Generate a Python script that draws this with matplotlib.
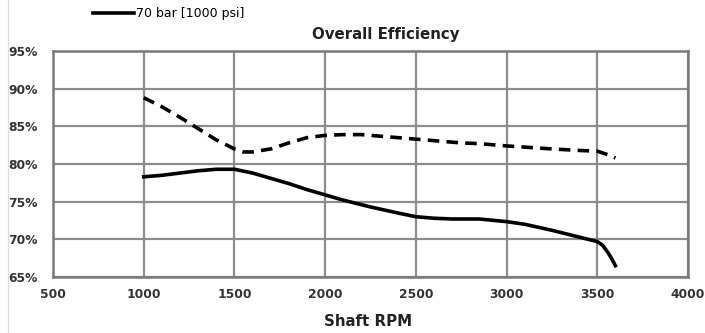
import matplotlib
matplotlib.use("Agg")
import matplotlib.pyplot as plt
from matplotlib.ticker import FuncFormatter

plt.rcParams['font.family'] = ['DejaVu Sans']

# Overall efficiency vs shaft speed
rpm_dashed = [1000, 1100, 1200, 1300, 1400, 1500, 1550, 1600, 1700, 1800, 1900,
              2000, 2100, 2200, 2400, 2500, 2600, 2750, 2850, 3000, 3250, 3400,
              3500, 3550, 3600]
eff_dashed = [88.8, 87.6, 86.2, 84.7, 83.2, 82.0, 81.6, 81.6, 82.0, 82.8, 83.5,
              83.8, 83.9, 83.9, 83.5, 83.3, 83.1, 82.8, 82.7, 82.4, 82.0, 81.8,
              81.7, 81.3, 80.8]

rpm_solid = [1000, 1100, 1200, 1300, 1400, 1500, 1600, 1700, 1800, 1900, 2000,
             2100, 2250, 2400, 2500, 2600, 2700, 2850, 3000, 3100, 3250, 3400,
             3500, 3530, 3560, 3580, 3600]
eff_solid = [78.3, 78.5, 78.8, 79.1, 79.3, 79.3, 78.8, 78.1, 77.4, 76.6, 75.9,
             75.2, 74.3, 73.5, 73.0, 72.8, 72.7, 72.7, 72.35, 72.0, 71.2, 70.3,
             69.7, 69.2, 68.2, 67.4, 66.5]

legend_label = "70 bar [1000 psi]"
x_ticks = [500, 1000, 1500, 2000, 2500, 3000, 3500, 4000]
y_ticks = [65, 70, 75, 80, 85, 90, 95]

fig = plt.figure(figsize=(7.05, 3.33), dpi=100)
ax = fig.add_axes([53 / 705, 1 - 277 / 333, (688 - 53) / 705, (277 - 51) / 333])

grid_color = '#8c8c8c'
ax.set_xlim(500, 4000)
ax.set_ylim(65, 95)
ax.set_xticks(x_ticks)
ax.set_yticks(y_ticks)
ax.grid(True, color=grid_color, linewidth=1.6, zorder=0)
for s in ax.spines.values():
    s.set_color('#7a7a7a')
    s.set_linewidth(1.8)

ax.plot(rpm_dashed, eff_dashed, color='black', linewidth=2.6,
        linestyle=(0, (3.2, 2.0)), zorder=3)
line, = ax.plot(rpm_solid, eff_solid, color='black', linewidth=2.6, zorder=3)

ax.yaxis.set_major_formatter(FuncFormatter(lambda v, p: f"{int(v)}%"))
ax.tick_params(axis='both', length=0, labelsize=8.8, labelcolor='#333333')
ax.tick_params(axis='y', pad=10.8)
ax.tick_params(axis='x', pad=8)
for lab in ax.get_xticklabels() + ax.get_yticklabels():
    lab.set_fontweight('bold')

fig.text(386 / 705, 1 - 35 / 333, "Overall Efficiency", ha='center', va='center',
         fontsize=10.8, fontweight='bold', color='#222222')
fig.text(368 / 705, 1 - 322 / 333, "Shaft RPM", ha='center', va='center',
         fontsize=10.8, fontweight='bold', color='#222222')

fig.legend([line], [legend_label], loc='center left',
           bbox_to_anchor=(93 / 705, 1 - 14 / 333), frameon=False,
           fontsize=9, handlelength=3.3, handletextpad=0.1,
           borderaxespad=0, borderpad=0)

fig.add_artist(plt.Line2D([8 / 705, 8 / 705], [0, 1], color='#dddddd',
                          linewidth=1, transform=fig.transFigure))

fig.savefig("out.png", dpi=100)
